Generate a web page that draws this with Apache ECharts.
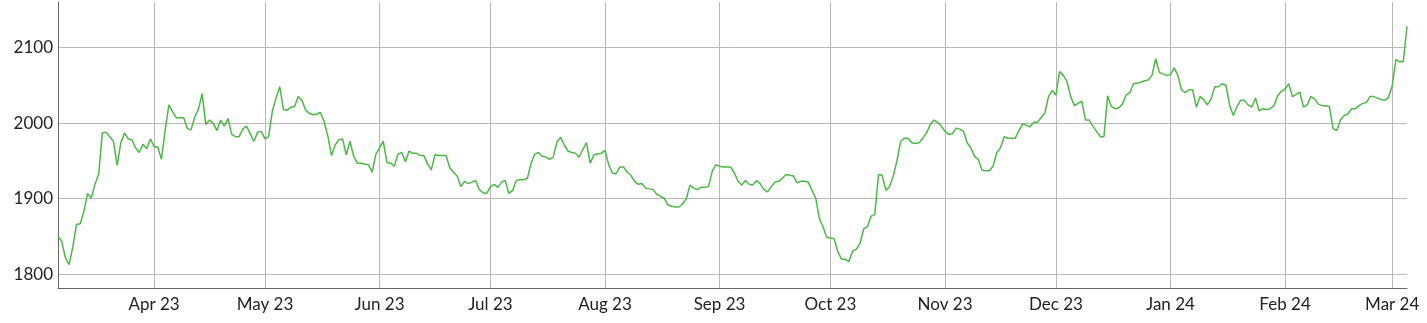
<!DOCTYPE html>
<html>
<head>
<meta charset="utf-8">
<script src="https://cdn.jsdelivr.net/npm/echarts@6/dist/echarts.min.js"></script>
<style>
html,body{margin:0;padding:0;background:#ffffff;}
#chart{width:1427px;height:323px;}
</style>
</head>
<body>
<div id="chart"></div>
<script>
// Daily values, first day 2023-03-06
const startDate = [2023, 3, 6];
const mar23 = [1850,1844,1822,1813,1836,1866,1867,1883,1907,1901,1919,1932,1987,1988,1982,1976,1944,1974,1987,1979,1978,1967,1961,1972,1966,1979];
const apr23 = [1969,1968,1952,1991,2024,2015,2007,2007,2007,1993,1991,2008,2018,2039,1998,2004,2000,1990,2004,1996,2006,1985,1982,1982,1992,1996,1986,1976,1988,1989];
const may23 = [1979,1982,2016,2033,2048,2018,2017,2021,2022,2035,2030,2017,2013,2011,2012,2014,2002,1983,1957,1971,1978,1979,1958,1976,1956,1947,1947,1946,1945,1935,1959];
const jun23 = [1967,1976,1948,1947,1943,1959,1961,1949,1963,1960,1960,1957,1957,1946,1938,1958,1957,1957,1957,1941,1935,1930,1916,1923,1920,1922,1924,1912,1908,1907];
const jul23 = [1916,1919,1915,1922,1924,1907,1911,1924,1925,1925,1927,1947,1959,1961,1956,1955,1952,1955,1975,1981,1971,1963,1961,1960,1955,1965,1974,1947,1958,1959,1960];
const aug23 = [1964,1945,1934,1933,1942,1942,1935,1931,1923,1919,1920,1914,1913,1912,1906,1903,1901,1892,1890,1889,1889,1893,1900,1918,1914,1912,1915,1915,1916,1936,1945];
const sep23 = [1943,1942,1942,1942,1934,1923,1918,1924,1919,1918,1924,1920,1912,1909,1916,1922,1923,1927,1932,1931,1930,1921,1923,1923,1922,1911,1901,1874,1863,1849];
const oct23 = [1848,1847,1830,1820,1820,1817,1831,1833,1841,1860,1863,1877,1879,1932,1931,1911,1916,1930,1950,1976,1980,1980,1974,1973,1974,1980,1987,1998,2004,2001,1996];
const nov23 = [1989,1985,1986,1993,1992,1989,1974,1967,1956,1952,1938,1937,1937,1943,1961,1967,1982,1980,1980,1980,1990,1999,1997,1995,2001,2001,2007,2013,2035,2043];
const dec23 = [2037,2068,2063,2055,2035,2023,2026,2029,2004,2004,1996,1989,1982,1982,2036,2022,2019,2020,2025,2037,2040,2052,2053,2054,2056,2057,2063,2085,2067,2065,2063];
const jan24 = [2064,2073,2063,2044,2040,2044,2044,2021,2035,2031,2024,2032,2048,2048,2052,2050,2024,2010,2022,2030,2030,2024,2021,2033,2016,2019,2018,2019,2023,2036,2042];
const feb24 = [2045,2052,2035,2038,2041,2021,2024,2035,2032,2025,2023,2023,2022,1993,1990,2004,2010,2012,2019,2019,2023,2026,2027,2035,2035,2033,2031,2030,2034];
const mar24 = [2049,2084,2081,2081,2128];

const yTicks = [1800, 1900, 2000, 2100];
const monthTicks = ['2023-04-01','2023-05-01','2023-06-01','2023-07-01','2023-08-01','2023-09-01','2023-10-01','2023-11-01','2023-12-01','2024-01-01','2024-02-01','2024-03-01'];
const monthNames = ['Jan','Feb','Mar','Apr','May','Jun','Jul','Aug','Sep','Oct','Nov','Dec'];
const xMin = '2023-03-06';
const xMax = '2024-03-05';
const yMin = 1782;
const yMax = 2160;

function toTs(s) {
  const p = s.split('-').map(Number);
  return new Date(p[0], p[1] - 1, p[2]).getTime();
}

const allValues = [].concat(mar23, apr23, may23, jun23, jul23, aug23, sep23, oct23, nov23, dec23, jan24, feb24, mar24);
const seriesData = allValues.map((v, i) => [new Date(startDate[0], startDate[1] - 1, startDate[2] + i).getTime(), v]);
const monthTs = monthTicks.map(toTs);

const chart = echarts.init(document.getElementById('chart'), null, {renderer: 'canvas'});
chart.setOption({
  animation: false,
  backgroundColor: '#ffffff',
  grid: {left: 58, right: 20, top: 2, bottom: 35, containLabel: false},
  xAxis: {
    type: 'value',
    min: toTs(xMin),
    max: toTs(xMax),
    axisLine: {show: true, onZero: false, lineStyle: {color: '#666666', width: 1}},
    axisTick: {show: false, customValues: monthTs},
    splitLine: {show: true, lineStyle: {color: '#b8b8b8', width: 1}},
    axisLabel: {
      customValues: monthTs,
      color: '#222222',
      fontFamily: 'Lato',
      fontSize: 17,
      margin: 8,
      hideOverlap: false,
      formatter: function (val) {
        const d = new Date(val);
        return monthNames[d.getMonth()] + ' ' + String(d.getFullYear()).slice(2);
      }
    }
  },
  yAxis: {
    type: 'value',
    min: yMin,
    max: yMax,
    axisLine: {show: true, onZero: false, lineStyle: {color: '#666666', width: 1}},
    axisTick: {show: false, customValues: yTicks},
    splitLine: {show: true, lineStyle: {color: '#b8b8b8', width: 1}},
    axisLabel: {
      customValues: yTicks,
      color: '#222222',
      fontFamily: 'Lato',
      fontSize: 17,
      margin: 5,
      formatter: function (val) { return String(val); }
    }
  },
  series: [{
    type: 'line',
    data: seriesData,
    showSymbol: false,
    symbol: 'none',
    lineStyle: {color: '#4db848', width: 1.5},
    itemStyle: {color: '#4db848'}
  }]
});
</script>
</body>
</html>
